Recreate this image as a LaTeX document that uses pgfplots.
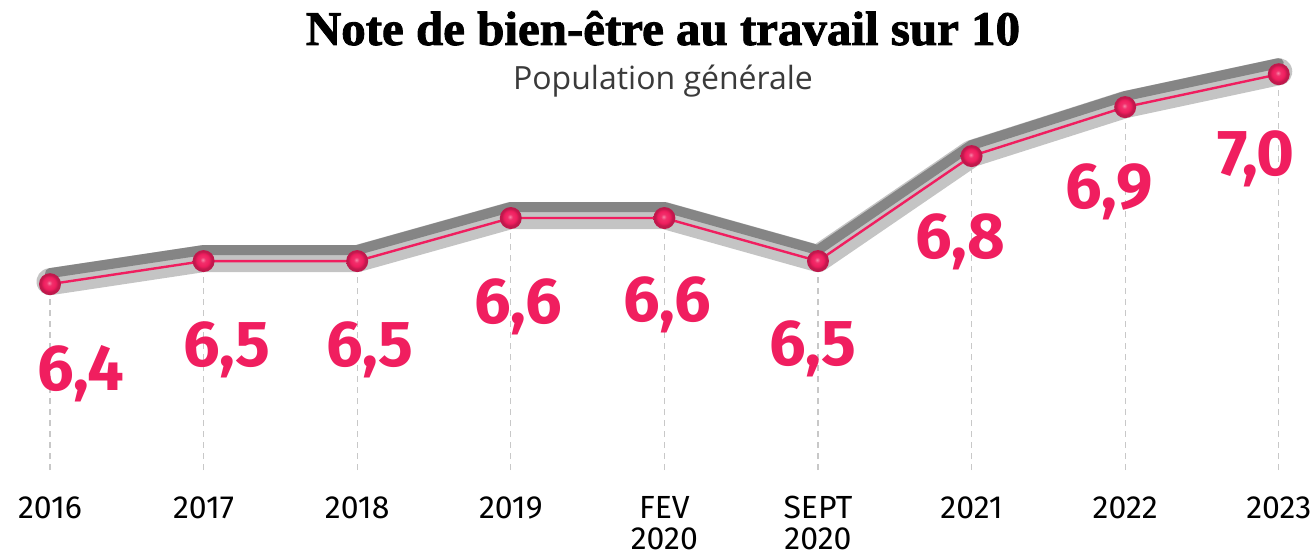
\documentclass[border=0pt]{standalone}
\usepackage{fontspec}
\setmainfont{Fira Sans}
\newfontfamily\titlefont{Liberation Serif}[BoldFeatures={FakeBold=1.8}]
\newfontfamily\subfont{Open Sans}
\usepackage{pgfplots}
\usepackage{pgfplotstable}
\pgfplotsset{compat=1.18}
\definecolor{pinkc}{HTML}{F01E5F}
\definecolor{bandlight}{HTML}{C4C4C4}
\definecolor{banddark}{HTML}{858585}
\definecolor{gridc}{HTML}{C8C8C8}
\definecolor{subc}{HTML}{3A3A3A}
\pgfdeclareradialshading{pinkball}{\pgfpoint{-2bp}{3bp}}{%
  color(0bp)=(pinkc!55!white); color(6bp)=(pinkc!92!white);
  color(14bp)=(pinkc); color(20bp)=(pinkc!80!black); color(50bp)=(pinkc!80!black)}
\pgfdeclareplotmark{pinkball}{%
  \pgfpathcircle{\pgfpointorigin}{\pgfplotmarksize}%
  \pgfshadepath{pinkball}{0}%
  \pgfusepath{discard}}

\pgfplotstableread{
x y
0 6.400
1 6.466
2 6.466
3 6.589
4 6.589
5 6.466
6 6.766
7 6.906
8 7.000
}\datatab

\pgfplotstableread{
x y lab
0.202 6.097 6,4
1.152 6.166 6,5
2.083 6.166 6,5
3.047 6.289 6,6
4.017 6.294 6,6
4.967 6.169 6,5
5.924 6.474 6,8
6.895 6.617 6,9
7.852 6.711 7,0
}\labtab

\begin{document}
\begin{tikzpicture}
\begin{axis}[
  at={(9.64pt,44pt)}, anchor=south west,
  scale only axis, width=645.1pt, height=215.4pt,
  xmin=-0.2, xmax=8.2, ymin=5.869, ymax=7.1,
  axis line style={draw=none}, major tick length=0pt,
  ytick=\empty, xtick={0,...,8},
  xticklabels={2016,2017,2018,2019,{FEV\\2020},{SEPT\\2020},2021,2022,2023},
  xticklabel style={align=center, anchor=north, yshift=-13pt,
    font=\fontsize{16}{15.5}\selectfont, text=black, inner sep=0pt},
  clip=true,
]
\addplot[ycomb, gridc, dash pattern=on 3pt off 2.5pt, line width=0.6pt, mark=none] table {\datatab};
\addplot[bandlight, line width=13.5pt, line join=round, line cap=round, yshift=1.25pt] table {\datatab};
\addplot[banddark, line width=5pt, line join=round, line cap=round, yshift=5.5pt] table {\datatab};
\addplot[pinkc, line width=1.2pt, mark=pinkball, mark size=5.5pt] table {\datatab};
\addplot[draw=none, mark=none, nodes near coords, point meta=explicit symbolic,
  every node near coord/.append style={anchor=base, inner sep=0pt,
    font=\fontsize{32.5}{32}\selectfont\bfseries, text=pinkc}]
  table[meta=lab] {\labtab};
\end{axis}
\node[anchor=base, inner sep=0pt] at (331.5pt,256.5pt)
  {\resizebox{357pt}{17pt}{\titlefont\bfseries Note de bien-être au travail sur 10}};
\node[anchor=base, inner sep=0pt, text=subc] at (331.5pt,234pt)
  {\subfont\fontsize{16}{18}\selectfont Population générale};
\pgfresetboundingbox
\path[use as bounding box] (0,0) rectangle (656pt,279pt);
\end{tikzpicture}
\end{document}
